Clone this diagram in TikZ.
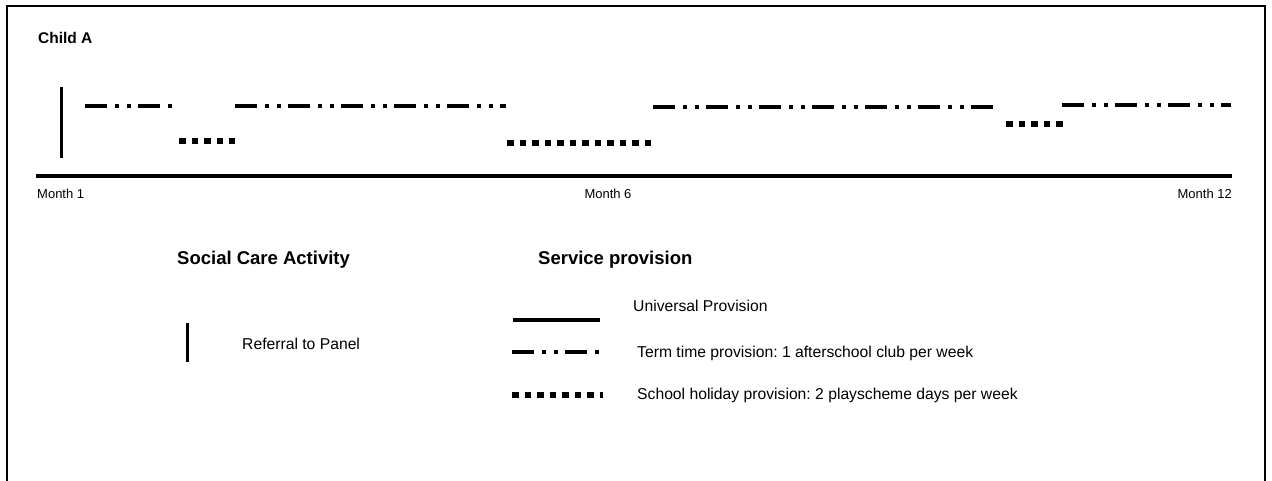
\documentclass[tikz,border=0pt]{standalone}
\usepackage{fontspec}
\setmainfont{Liberation Sans}
\usepackage{tikz}
\usetikzlibrary{positioning}
\frenchspacing
\tikzset{
  mon/.style={inner sep=0pt,font=\fontsize{13}{15}\selectfont},
  lbl/.style={anchor=west,inner sep=0pt,font=\fontsize{15.7}{19}\selectfont},
  hd/.style={anchor=west,inner sep=0pt,font=\fontsize{18.5}{22}\selectfont\bfseries},
  uni/.style={line width=3.5pt},
  refl/.style={line width=3pt},
  term/.style={line width=3.5pt,dash pattern=on 22pt off 8pt on 4pt off 8pt on 4pt off 7pt},
  hol/.style={line width=6pt,dash pattern=on 6.5pt off 6pt}
}
\begin{document}
\begin{tikzpicture}[x=1pt,y=-1pt]
\useasboundingbox (0,0) rectangle (1272,481);
\draw[line width=2pt] (7,483) -- (7,6) -- (1265,6) -- (1265,483);
\node[hd,font=\fontsize{15.5}{18}\selectfont\bfseries] (child) at (38,38) {Child A};
% time line
\coordinate (t0) at (36,176);
\coordinate (t1) at (1232,176);
\draw[uni] (t0) -- (t1);
\node[mon,anchor=west] (m1) at (37,194) {Month 1};
\node[mon] (m6) at (608,194) {Month 6};
\node[mon,anchor=east] (m12) at (1232,194) {Month 12};
% referral
\draw[refl] (61,87) -- (61,158);
% term time
\draw[term] (85,106) -- (174,106);
\draw[term] (235,106) -- (506,106);
\draw[term] (653,107) -- (996,107);
\draw[term] (1062,105) -- (1231,105);
% holidays
\draw[hol] (179,141) -- (235,141);
\draw[hol] (507,143) -- (655,143);
\draw[hol] (1006,124) -- (1063,124);
% key
\node[hd] (sca) at (177,260) {Social Care Activity};
\node[hd] (sp) at (538,260) {Service provision};
\draw[refl] (187,323) -- (187,362);
\node[lbl] (ref) at (242,344) {Referral to Panel};
\draw[uni] (513,320) -- (600,320);
\node[lbl] (univ) at (633,306) {Universal Provision};
\draw[term] (512,352) -- (599,352);
\node[lbl] (tt) at (637,353) {Term time provision: 1 afterschool club per week};
\draw[hol] (512,395) -- (603,395);
\node[lbl] (sh) at (637,395) {School holiday provision: 2 playscheme days per week};
\end{tikzpicture}
\end{document}
